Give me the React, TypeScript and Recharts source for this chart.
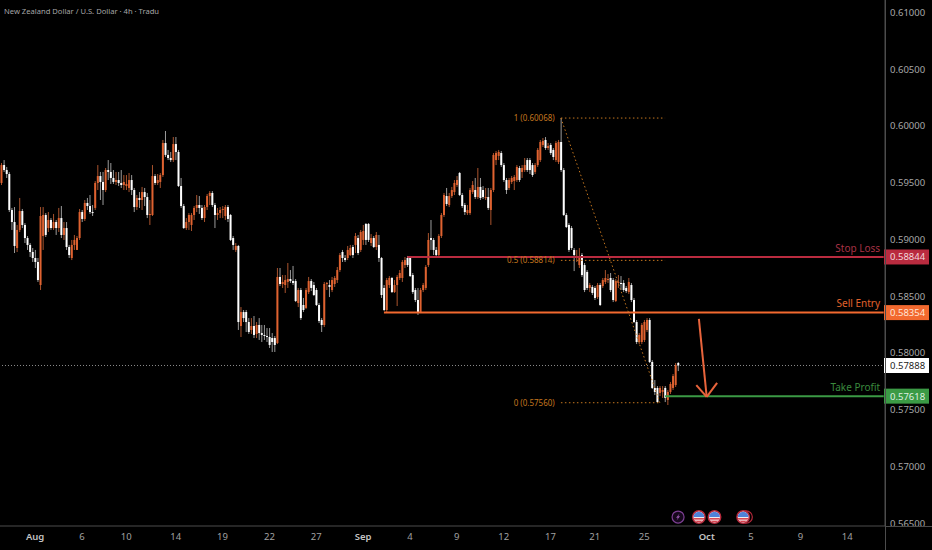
import { ComposedChart, Bar, XAxis, YAxis, ReferenceLine, ReferenceDot } from 'recharts'

// prices in 1/100000 of a dollar, one value per 4h candle
const opens = [
  59496,59654,59610,59575,59258,59152,58923,59082,59249,59126,
  59011,58950,58888,58835,58800,58597,59029,59214,59099,59170,
  59099,59152,59099,59187,59038,59099,58932,58835,58950,58906,
  59011,59240,59179,59320,59293,59240,59276,59496,59557,59505,
  59434,59610,59593,59540,59505,59522,59496,59478,59469,59452,
  59522,59434,59284,59364,59346,59416,59372,59214,59214,59557,
  59496,59505,59566,59848,59743,59716,59698,59839,59769,59469,
  59293,59099,59152,59126,59214,59276,59302,59276,59187,59284,
  59381,59408,59302,59214,59231,59258,59205,59284,59214,59011,
  58906,58941,58236,58359,58359,58271,58201,58236,58166,58245,
  58174,58157,58148,58139,58130,58130,58086,58668,58606,58597,
  58624,58650,58632,58632,58439,58553,58421,58395,58535,58632,
  58597,58553,58421,58289,58245,58606,58597,58553,58606,58641,
  58729,58888,58835,58835,58861,58932,58950,59011,58906,58994,
  59135,59135,58967,59011,58932,58950,58835,58571,58377,58597,
  58659,58535,58597,58659,58659,58773,58835,58835,58685,58553,
  58465,58359,58553,58571,58773,59011,58994,58906,58861,59029,
  59214,59381,59302,59381,59416,59478,59584,59390,59302,59231,
  59231,59416,59434,59372,59461,59434,59364,59372,59258,59434,
  59698,59734,59760,59654,59522,59452,59505,59513,59522,59628,
  59593,59610,59698,59698,59654,59593,59654,59698,59831,59875,
  59804,59831,59787,59698,59681,59857,59610,59214,59126,59099,
  58906,58835,58773,58861,58773,58712,58571,58580,58571,58491,
  58597,58588,58624,58641,58659,58641,58456,58615,58615,58615,
  58571,58535,58597,58465,58271,58095,58095,58113,58201,58289,
  57919,57690,57690,57646,57655,57690,57584,57655,57690,57716,57910,
]
const closes = [
  59654,59610,59575,59258,59152,58941,59082,59249,59126,59011,
  58950,58888,58835,58800,58641,59205,59214,59038,59170,59099,
  59152,59099,59187,59038,59099,58932,58861,58950,58994,59011,
  59240,59179,59320,59293,59240,59231,59496,59557,59505,59434,
  59610,59593,59540,59505,59522,59496,59478,59505,59487,59522,
  59434,59284,59364,59346,59416,59372,59214,59223,59557,59496,
  59522,59566,59848,59743,59716,59698,59839,59769,59469,59293,
  59099,59152,59214,59214,59276,59302,59276,59187,59284,59381,
  59408,59302,59214,59231,59258,59267,59284,59179,58994,58950,
  58941,58271,58359,58306,58271,58183,58236,58157,58245,58174,
  58157,58148,58139,58069,58095,58069,58668,58606,58624,58641,
  58650,58632,58615,58456,58553,58306,58377,58553,58632,58571,
  58509,58421,58280,58245,58606,58615,58580,58641,58659,58729,
  58861,58835,58817,58906,58923,58861,59029,58879,59064,59073,
  58994,58994,59011,58932,59038,58835,58509,58377,58641,58659,
  58535,58597,58668,58703,58800,58817,58773,58676,58535,58465,
  58359,58553,58597,58756,58994,58994,58906,58861,59029,59214,
  59390,59311,59381,59434,59496,59522,59390,59293,59240,59258,
  59434,59478,59372,59461,59364,59372,59372,59276,59434,59743,
  59760,59769,59654,59522,59434,59522,59540,59549,59637,59522,
  59628,59654,59610,59610,59566,59654,59787,59857,59866,59804,
  59822,59760,59725,59848,59857,59610,59214,59108,58906,58923,
  58861,58853,58835,58685,58553,58571,58597,58527,58483,58597,
  58421,58641,58659,58650,58553,58465,58632,58624,58606,58553,
  58544,58624,58465,58271,58095,58157,58245,58271,58289,57919,
  57690,57655,57566,57690,57672,57602,57655,57725,57795,57892,57888,
]
const highs = [
  59672,59698,59637,59593,59276,59284,59126,59364,59267,59143,
  59029,58967,58923,58906,58835,59284,59284,59231,59240,59187,
  59223,59170,59276,59293,59152,59152,58950,58994,59038,59029,
  59267,59258,59346,59364,59390,59302,59513,59654,59593,59593,
  59628,59698,59672,59610,59593,59593,59610,59566,59566,59584,
  59566,59452,59390,59416,59461,59452,59408,59346,59654,59575,
  59575,59584,59875,59954,59787,59769,59901,59901,59787,59540,
  59311,59187,59231,59231,59293,59390,59381,59302,59302,59399,
  59425,59425,59320,59276,59284,59293,59302,59302,59223,59029,
  58967,58950,58403,58377,58377,58306,58306,58324,58271,58306,
  58245,58245,58218,58218,58174,58148,58747,58747,58685,58685,
  58791,58729,58765,58650,58571,58571,58483,58571,58668,58650,
  58624,58571,58439,58306,58624,58624,58641,58668,58676,58756,
  58879,58906,58861,58941,58950,58950,59055,59038,59082,59126,
  59143,59143,59046,59029,59064,59038,58844,58597,58659,58676,
  58668,58641,58685,58729,58817,58844,58853,58853,58703,58571,
  58571,58571,58615,58773,59055,59170,59011,58932,59046,59231,
  59408,59452,59408,59461,59522,59557,59593,59408,59320,59302,
  59452,59513,59540,59628,59540,59469,59452,59452,59452,59760,
  59778,59787,59778,59672,59540,59540,59557,59566,59654,59646,
  59654,59716,59716,59716,59672,59672,59804,59875,59892,59901,
  59848,59848,59804,59866,59875,60068,59628,59231,59143,59117,
  58923,58906,58923,58879,58791,58729,58615,58597,58588,58615,
  58615,58659,58729,58694,58703,58659,58650,58685,58676,58641,
  58588,58659,58615,58483,58289,58174,58262,58289,58306,58306,
  57936,57760,57707,57707,57707,57707,57672,57743,57813,57910,57919,
]
const lows = [
  59478,59593,59540,59240,59082,58879,58888,59064,59099,58967,
  58906,58844,58800,58747,58624,58553,58906,59020,59064,59082,
  59082,59038,59064,59011,58994,58906,58835,58817,58906,58906,
  58994,59152,59161,59258,59223,59205,59258,59434,59346,59302,
  59416,59522,59487,59487,59478,59469,59452,59434,59434,59416,
  59390,59240,59258,59276,59258,59293,59187,59126,59205,59478,
  59478,59452,59549,59725,59698,59681,59681,59698,59461,59276,
  59091,59082,59082,59073,59170,59240,59223,59170,59152,59258,
  59302,59284,59099,59170,59187,59187,59170,59152,58985,58906,
  58888,58201,58139,58271,58183,58166,58166,58130,58130,58113,
  58095,58113,58095,58042,58007,58007,58077,58588,58571,58527,
  58571,58615,58597,58447,58403,58289,58359,58386,58518,58544,
  58500,58412,58262,58183,58227,58553,58491,58535,58580,58615,
  58712,58800,58800,58817,58853,58835,58879,58861,58888,58950,
  58950,58976,58941,58923,58906,58800,58483,58368,58359,58571,
  58527,58527,58412,58641,58624,58747,58756,58668,58518,58447,
  58333,58350,58535,58553,58756,58906,58861,58835,58853,59011,
  59196,59293,59284,59364,59390,59461,59381,59276,59214,59214,
  59214,59399,59355,59355,59346,59355,59346,59258,59126,59416,
  59654,59698,59637,59505,59399,59434,59487,59434,59505,59505,
  59540,59593,59593,59575,59549,59575,59637,59681,59813,59787,
  59787,59743,59698,59681,59663,59593,59205,59099,58888,58906,
  58720,58800,58747,58668,58535,58553,58535,58509,58465,58474,
  58412,58571,58606,58615,58535,58447,58447,58571,58553,58535,
  58527,58518,58447,58262,58077,58077,58077,58095,58183,57910,
  57681,57628,57557,57619,57602,57566,57540,57637,57672,57699,57839,
]

const priceTicks = [0.61, 0.605, 0.6, 0.595, 0.59, 0.585, 0.58, 0.575, 0.57, 0.565]
const tagPrices = [0.58844, 0.58354, 0.57888, 0.57618]
const tagFills = ['#b92b3f', '#f2692f', '#ffffff', '#3b9a45']
const tagTexts = ['#f3d9dc', '#ffe6d8', '#222222', '#dff0e0']

const dateLabels = ['Aug', '6', '10', '14', '19', '22', '27', 'Sep', '4', '9', '12', '17', '21', '25', 'Oct', '5', '9', '14']
const dateSlots = [13, 31, 48, 67, 85, 103, 121, 139, 157, 175, 193, 211, 228, 247, 271, 288, 307, 325]
const monthLabels = ['Aug', 'Sep', 'Oct']

const FONT = '"Noto Sans", sans-serif'
const SLOT_COUNT = 340
const UP = '#df6230'
const DOWN = '#ffffff'
const FIB = '#c4761f'

const rows = Array.from({ length: SLOT_COUNT }, (_, i) =>
  i < opens.length
    ? { slot: i, open: opens[i] / 1e5, close: closes[i] / 1e5, high: highs[i] / 1e5, low: lows[i] / 1e5, range: [lows[i] / 1e5, highs[i] / 1e5] }
    : { slot: i, range: null }
)

function Candle(props: any) {
  const { x, y, width, height, payload } = props
  if (!payload || payload.open == null) return null
  const span = payload.high - payload.low
  const h = Math.abs(height)
  const top = Math.min(y, y + height)
  const up = payload.close >= payload.open
  const bodyTop = top + ((payload.high - Math.max(payload.open, payload.close)) / span) * h
  const bodyH = Math.max(1, (Math.abs(payload.close - payload.open) / span) * h)
  const cx = x + width / 2
  return (
    <g>
      <rect x={cx - 0.5} y={top} width={1} height={h} fill={up ? '#a9532d' : '#9a9a9a'} />
      <rect x={cx - 1} y={bodyTop} width={2} height={bodyH} fill={up ? UP : DOWN} />
    </g>
  )
}

function PriceTick({ x, y, payload }: any) {
  const i = tagPrices.indexOf(payload.value)
  const left = x - 1
  if (i >= 0) {
    return (
      <g>
        <rect x={left} y={y - 7.5} width={45} height={15} fill={tagFills[i]} />
        <text x={left + 6} y={y} dominantBaseline="central" fontSize={9.5} fontFamily={FONT} fill={tagTexts[i]}>
          {payload.value.toFixed(5)}
        </text>
      </g>
    )
  }
  return (
    <text x={left + 6} y={y} dominantBaseline="central" fontSize={9.5} fontFamily={FONT} fill="#a8a8a8">
      {payload.value.toFixed(5)}
    </text>
  )
}

function DateTick({ x, y, payload }: any) {
  const label = dateLabels[dateSlots.indexOf(payload.value)]
  const month = monthLabels.includes(label)
  return (
    <text x={x} y={y + 10} textAnchor="middle" dominantBaseline="central" fontSize={9.5} fontFamily={FONT} fontWeight={month ? 600 : 400} fill={month ? '#c4c4c4' : '#a0a0a0'}>
      {label}
    </text>
  )
}

function BoltIcon({ cx, cy }: any) {
  return (
    <g>
      <circle cx={cx} cy={cy} r={6} fill="#16081c" stroke="#7d3f93" strokeWidth={1.2} />
      <path d={`M${cx + 1.5} ${cy - 3.5} L${cx - 2} ${cy + 0.7} L${cx - 0.2} ${cy + 0.7} L${cx - 1.5} ${cy + 3.5} L${cx + 2} ${cy - 0.7} L${cx + 0.2} ${cy - 0.7} Z`} fill="#9a58b0" />
    </g>
  )
}

function FlagIcon({ cx, cy, stacked }: any) {
  const id = `flag-${Math.round(cx)}`
  return (
    <g>
      {stacked && <circle cx={cx + 3} cy={cy} r={6.2} fill="#000" stroke="#b5283a" strokeWidth={1.2} />}
      <clipPath id={id}><circle cx={cx} cy={cy} r={5.4} /></clipPath>
      <circle cx={cx} cy={cy} r={6.2} fill="#f2f2f2" stroke="#b5283a" strokeWidth={1.5} />
      <g clipPath={`url(#${id})`}>
        <rect x={cx - 6} y={cy - 6} width={12} height={6} fill="#4f82d8" />
        <rect x={cx - 6} y={cy + 1} width={12} height={1.6} fill="#d8434f" />
        <rect x={cx - 6} y={cy + 3.6} width={12} height={1.6} fill="#d8434f" />
      </g>
    </g>
  )
}

function levelLabel(value: string, fill: string, size: number) {
  return { value, position: 'left' as const, fill, fontSize: size, fontFamily: FONT, offset: 1 }
}

export default function App() {
  return (
    <div style={{ position: 'absolute', left: 0, top: 0, width: 932, height: 550, background: '#000', overflow: 'hidden' }}>
      <ComposedChart width={932} height={550} data={rows} margin={{ top: 0, right: 0, bottom: 0, left: 0 }} barCategoryGap={0}>
        <XAxis dataKey="slot" type="category" ticks={dateSlots} interval={0} height={24} tickSize={0} tickMargin={0} axisLine={{ stroke: '#4c4c4c' }} tick={DateTick} />
        <YAxis orientation="right" domain={[0.56474, 0.61108]} allowDataOverflow width={47} ticks={[...priceTicks, ...tagPrices]} interval={0} tickSize={0} tickMargin={0} axisLine={{ stroke: '#4c4c4c' }} tick={PriceTick} />

        <ReferenceLine y={0.57888} stroke="#8a8a8a" strokeWidth={1} strokeDasharray="1 2" />

        <Bar dataKey="range" shape={Candle} isAnimationActive={false} />

        <ReferenceLine segment={[{ x: 156, y: 0.58844 }, { x: 339, y: 0.58844 }]} stroke="#b92b3f" strokeWidth={2} />
        <ReferenceLine segment={[{ x: 147, y: 0.58354 }, { x: 339, y: 0.58354 }]} stroke="#f2692f" strokeWidth={2} />
        <ReferenceLine segment={[{ x: 255, y: 0.57618 }, { x: 339, y: 0.57618 }]} stroke="#3b9a45" strokeWidth={2} />

        <ReferenceLine segment={[{ x: 215, y: 0.60068 }, { x: 255, y: 0.60068 }]} stroke={FIB} strokeDasharray="1.5 2.5" />
        <ReferenceLine segment={[{ x: 215, y: 0.58814 }, { x: 255, y: 0.58814 }]} stroke={FIB} strokeDasharray="1.5 2.5" />
        <ReferenceLine segment={[{ x: 215, y: 0.5756 }, { x: 253, y: 0.5756 }]} stroke={FIB} strokeDasharray="1.5 2.5" />
        <ReferenceLine segment={[{ x: 215, y: 0.60068 }, { x: 253, y: 0.5756 }]} stroke={FIB} strokeDasharray="1.5 2.5" />

        <ReferenceDot x={213} y={0.60068} r={0} stroke="none" label={levelLabel('1 (0.60068)', FIB, 8)} />
        <ReferenceDot x={213} y={0.58814} r={0} stroke="none" label={levelLabel('0.5 (0.58814)', FIB, 8)} />
        <ReferenceDot x={213} y={0.5756} r={0} stroke="none" label={levelLabel('0 (0.57560)', FIB, 8)} />

        <ReferenceDot x={338} y={0.58923} r={0} stroke="none" label={levelLabel('Stop Loss', '#a83245', 10)} />
        <ReferenceDot x={338} y={0.58438} r={0} stroke="none" label={levelLabel('Sell Entry', '#e0622c', 10)} />
        <ReferenceDot x={338} y={0.57697} r={0} stroke="none" label={levelLabel('Take Profit', '#3a8a3e', 10)} />

        <ReferenceLine segment={[{ x: 268, y: 0.58298 }, { x: 271, y: 0.57612 }]} stroke="#e8643c" strokeWidth={2} />
        <ReferenceLine segment={[{ x: 267, y: 0.57715 }, { x: 271, y: 0.57612 }]} stroke="#e8643c" strokeWidth={2} />
        <ReferenceLine segment={[{ x: 275, y: 0.57735 }, { x: 271, y: 0.57612 }]} stroke="#e8643c" strokeWidth={2} />

        <ReferenceDot x={260} y={0.56553} r={6} shape={BoltIcon} />
        <ReferenceDot x={268} y={0.56553} r={6} shape={FlagIcon} />
        <ReferenceDot x={274} y={0.56553} r={6} shape={FlagIcon} />
        <ReferenceDot x={285} y={0.56553} r={6} shape={(p: any) => <FlagIcon {...p} stacked />} />
      </ComposedChart>

      <div style={{ position: 'absolute', left: 4, top: 4, fontFamily: FONT, fontSize: 7.6, lineHeight: '14px', color: '#a6a6a6', whiteSpace: 'nowrap' }}>
        New Zealand Dollar / U.S. Dollar · 4h · Tradu
      </div>
      <div style={{ position: 'absolute', left: 885, top: 0, width: 1, height: 550, background: '#4c4c4c' }} />
      <div style={{ position: 'absolute', left: 885, top: 526, width: 47, height: 1, background: '#4c4c4c' }} />
    </div>
  )
}
